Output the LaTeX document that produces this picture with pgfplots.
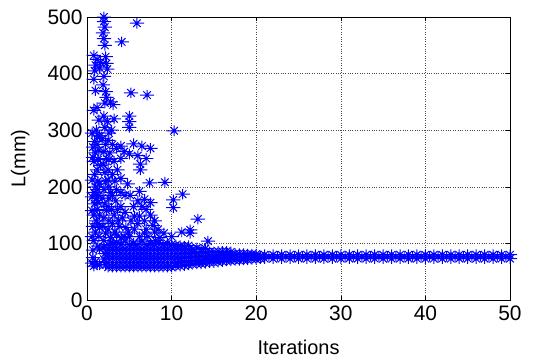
\documentclass[border=0pt]{standalone}
\usepackage{pgfplots}
\pgfplotsset{compat=1.18}
\usepackage{fontspec}
\setmainfont{Liberation Sans}
\pgfdeclareplotmark{mstar}{%
 \pgfpathmoveto{\pgfqpoint{-1.35\pgfplotmarksize}{0pt}}\pgfpathlineto{\pgfqpoint{1.35\pgfplotmarksize}{0pt}}%
 \pgfpathmoveto{\pgfqpoint{0pt}{-\pgfplotmarksize}}\pgfpathlineto{\pgfqpoint{0pt}{\pgfplotmarksize}}%
 \pgfpathmoveto{\pgfqpoint{-.707\pgfplotmarksize}{-.707\pgfplotmarksize}}\pgfpathlineto{\pgfqpoint{.707\pgfplotmarksize}{.707\pgfplotmarksize}}%
 \pgfpathmoveto{\pgfqpoint{-.707\pgfplotmarksize}{.707\pgfplotmarksize}}\pgfpathlineto{\pgfqpoint{.707\pgfplotmarksize}{-.707\pgfplotmarksize}}%
 \pgfusepathqstroke}
% scattered particles (early iterations)
\pgfplotstableread{
x y
0.6 65
0.7 75
0.8 60
1.0 68
1.2 62
0.8 105
1.0 120
0.7 130
1.1 140
0.8 150
1.2 160
0.9 170
1.1 180
0.8 190
1.0 200
1.3 210
0.9 222
1.2 230
0.8 245
1.0 260
1.4 265
0.9 280
0.6 295
1.1 300
1.3 290
0.8 335
1.2 340
1.0 370
0.8 390
0.9 405
1.0 415
1.2 425
0.8 432
1.5 410
1.6 420
1.5 62
1.5 90
1.5 150
1.5 290
1.4 112
1.5 128
1.4 185
1.5 205
1.6 238
1.4 318
0.7 88
0.6 112
0.6 158
0.6 182
0.6 212
0.7 252
0.7 270
1.3 95
1.3 135
1.3 172
1.3 195
1.3 248
1.2 275
2.0 500
2.0 492
2.1 482
1.9 472
2.0 462
2.1 450
2.2 430
2.3 418
2.4 408
2.0 395
1.9 380
2.2 368
2.3 358
2.1 348
2.0 325
2.4 315
2.1 305
1.8 285
2.2 275
2.0 262
2.3 250
1.9 240
2.1 225
2.2 210
2.0 195
1.8 180
2.1 170
2.3 158
2.0 145
1.8 130
2.2 118
2.0 105
1.9 92
2.1 82
2.0 72
2.2 62
2.6 295
2.5 230
2.6 200
2.5 165
2.6 140
2.5 125
2.6 180
2.5 212
2.6 248
2.5 282
2.8 350
3.1 345
3.2 320
2.9 300
3.0 275
2.7 260
3.2 245
3.0 222
3.3 210
2.8 190
3.0 185
3.4 175
2.9 160
3.2 150
3.0 135
3.3 120
2.8 110
3.1 100
3.5 268
3.6 230
3.5 195
3.6 160
3.7 140
3.5 115
4.0 272
4.0 250
4.0 215
4.0 165
4.2 145
3.8 130
4.1 110
4.1 456
4.0 190
4.4 262
4.5 185
4.5 155
4.6 128
4.4 112
4.8 205
4.9 120
5.0 325
5.0 315
5.0 305
5.2 366
5.5 276
5.0 258
5.1 185
5.2 140
5.0 112
5.5 165
5.6 125
5.6 148
5.9 489
6.0 175
6.0 135
6.0 255
6.3 240
6.3 230
6.5 272
6.5 165
6.2 148
6.2 112
6.2 192
6.8 178
6.8 140
6.8 118
7.0 160
7.0 125
7.0 250
7.1 362
7.4 207
7.5 268
7.5 150
7.2 112
7.5 172
7.8 132
8.0 140
8.0 120
8.1 105
8.4 125
8.6 110
9.2 208
9.1 118
10.3 299
10.2 177
10.2 163
10.0 112
11.3 187
11.2 120
12.2 124
12.2 118
13.1 143
14.3 104
}\scatt
% dense swarm near the optimum
\pgfplotstableread{
x y
2.5 58
2.5 66
2.5 74
2.5 82
2.5 90
2.5 98
3.0 58
3.0 66
3.0 74
3.0 82
3.0 90
3.0 98
3.5 58
3.5 66
3.5 74
3.5 82
3.5 90
3.5 102
4.0 58
4.0 66
4.0 74
4.0 82
4.0 90
4.0 98
4.5 58
4.5 66
4.5 74
4.5 82
4.5 90
4.5 104
5.0 58
5.0 66
5.0 74
5.0 82
5.0 90
5.0 98
5.5 58
5.5 66
5.5 74
5.5 82
5.5 90
5.5 100
6.0 58
6.0 66
6.0 74
6.0 82
6.0 90
6.0 98
6.5 58
6.5 66
6.5 74
6.5 82
6.5 90
6.5 104
7.0 58
7.0 66
7.0 74
7.0 82
7.0 90
7.0 98
7.5 58
7.5 66
7.5 74
7.5 82
7.5 90
7.5 100
8.0 58
8.0 66
8.0 74
8.0 82
8.0 90
8.0 98
8.5 58
8.5 66
8.5 74
8.5 82
8.5 90
8.5 102
9.0 58
9.0 66
9.0 74
9.0 82
9.0 90
9.0 98
9.5 58
9.5 66
9.5 74
9.5 82
9.5 90
9.5 100
10.0 58
10.0 66
10.0 74
10.0 82
10.0 90
10.0 98
10.5 60
10.5 66
10.5 74
10.5 82
10.5 90
10.5 97
11.0 60
11.0 67
11.0 74
11.0 82
11.0 90
11.0 96
11.5 61
11.5 68
11.5 75
11.5 82
11.5 89
11.5 95
12.0 62
12.0 68
12.0 75
12.0 82
12.0 89
12.0 96
12.5 63
12.5 69
12.5 76
12.5 83
12.5 90
13.0 64
13.0 70
13.0 76
13.0 83
13.0 92
13.5 64
13.5 70
13.5 77
13.5 84
13.5 90
14.0 65
14.0 71
14.0 77
14.0 84
14.0 91
14.5 66
14.5 72
14.5 78
14.5 85
15.0 66
15.0 72
15.0 78
15.0 85
15.5 67
15.5 73
15.5 79
15.5 86
16.0 68
16.0 74
16.0 80
16.0 86
16.5 69
16.5 75
16.5 81
16.5 86
17.0 69
17.0 75
17.0 81
17.0 85
17.5 70
17.5 76
17.5 82
18.0 70
18.0 76
18.0 82
18.5 71
18.5 76
18.5 82
19.0 71
19.0 77
19.0 81
19.5 72
19.5 77
19.5 81
20.0 72
20.0 77
20.0 81
20.5 73
20.5 78
21.0 73
21.0 80
21.5 77
22.0 73
22.0 80
22.5 77
23.0 73
23.0 80
23.5 77
24.0 73
24.0 80
24.5 77
25.0 73
25.0 80
25.5 77
26.0 73
26.0 80
26.5 77
27.0 73
27.0 80
27.5 77
28.0 73
28.0 80
28.5 77
29.0 73
29.0 80
29.5 77
30.0 73
30.0 80
30.5 77
31.0 73
31.0 80
31.5 77
32.0 73
32.0 80
32.5 77
33.0 73
33.0 80
33.5 77
34.0 73
34.0 80
34.5 77
35.0 73
35.0 80
35.5 77
36.0 73
36.0 80
36.5 77
37.0 73
37.0 80
37.5 77
38.0 73
38.0 80
38.5 77
39.0 73
39.0 80
39.5 77
40.0 73
40.0 80
40.5 77
41.0 73
41.0 80
41.5 77
42.0 73
42.0 80
42.5 77
43.0 73
43.0 80
43.5 77
44.0 73
44.0 80
44.5 77
45.0 73
45.0 80
45.5 77
46.0 73
46.0 80
46.5 77
47.0 73
47.0 80
47.5 77
48.0 73
48.0 80
48.5 77
49.0 73
49.0 80
49.5 77
50.0 73
50.0 80
}\swarm
\begin{document}
\begin{tikzpicture}
\begin{axis}[
  scale only axis,
  width=423bp, height=283bp,
  xmin=0, xmax=50, ymin=0, ymax=500,
  xtick={0,10,...,50}, ytick={0,100,...,500},
  grid=major,
  grid style={dotted, black!70, line width=0.6pt},
  tick align=inside,
  major tick length=4bp,
  axis line style={black, line width=0.9pt},
  tick style={black, line width=0.6pt},
  /pgf/number format/assume math mode=true,
  tick label style={font=\fontsize{21}{24}\selectfont},
  xticklabel style={yshift=-2bp},
  yticklabel style={xshift=-1bp},
  label style={font=\fontsize{20}{23}\selectfont},
  xlabel={Iterations},
  ylabel={L(mm)},
  xlabel style={at={(axis description cs:0.5,-0.166)}, anchor=center},
  ylabel style={at={(axis description cs:-0.158,0.5)}, anchor=center},
  clip=false,
]
\addplot[only marks, blue, mark=mstar, mark size=5.3bp, line width=1pt] table[x=x,y=y] {\swarm};
\addplot[only marks, blue, mark=mstar, mark size=5.3bp, line width=1pt] table[x=x,y=y] {\scatt};
\end{axis}
\pgfresetboundingbox
\path ([shift={(-87bp,-58bp)}]current axis.south west) rectangle ([shift={(24bp,17bp)}]current axis.north east);
\end{tikzpicture}
\end{document}
